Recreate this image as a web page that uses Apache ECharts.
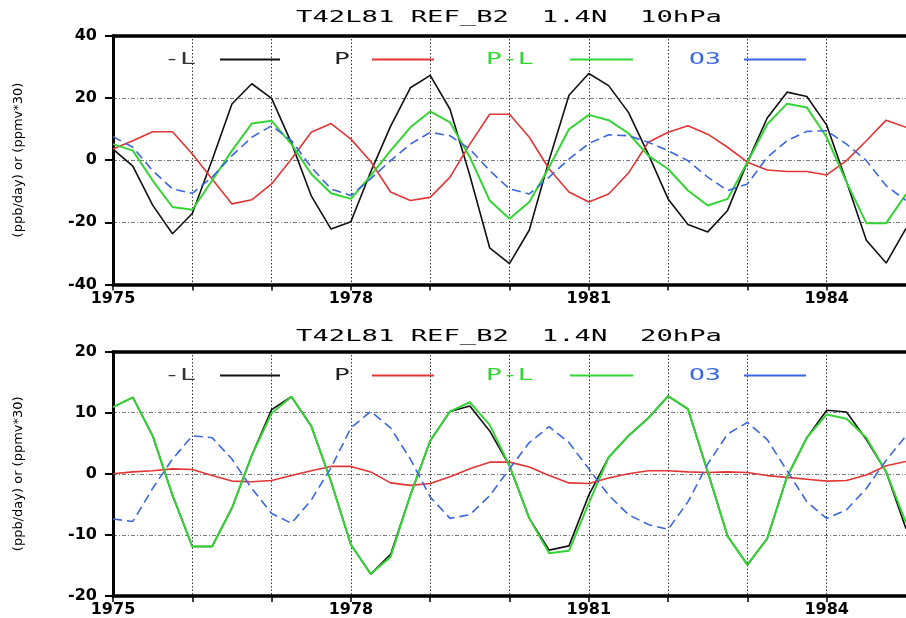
<!DOCTYPE html>
<html>
<head>
<meta charset="utf-8">
<script src="https://cdn.jsdelivr.net/npm/echarts@6/dist/echarts.min.js"></script>
<style>
  html, body { margin: 0; padding: 0; background: #ffffff; }
  #chart { width: 906px; height: 618px; }
</style>
</head>
<body>
<div id="chart"></div>
<script>
// ---- data (quarterly, 1975.0 .. 1985.0) ----
const times = [1975, 1975.25, 1975.5, 1975.75, 1976, 1976.25, 1976.5, 1976.75,
  1977, 1977.25, 1977.5, 1977.75, 1978, 1978.25, 1978.5, 1978.75,
  1979, 1979.25, 1979.5, 1979.75, 1980, 1980.25, 1980.5, 1980.75,
  1981, 1981.25, 1981.5, 1981.75, 1982, 1982.25, 1982.5, 1982.75,
  1983, 1983.25, 1983.5, 1983.75, 1984, 1984.25, 1984.5, 1984.75, 1985];

const seriesNames = ['-L', 'P', 'P-L', 'O3'];
const panelTitles = ['T42L81 REF_B2  1.4N  10hPa', 'T42L81 REF_B2  1.4N  20hPa'];
const yAxisName = '(ppb/day) or (ppmv*30)';
const xLabelYears = [1975, 1978, 1981, 1984];

// 10 hPa panel
const top_L = [3.5, -2.0, -14.5, -23.7, -17.2, 0.0, 18.0, 24.5, 19.8, 5.5, -11.5, -22.2, -19.8, -3.8, 10.8, 23.2,
  27.2, 16.3, -5.0, -28.2, -33.3, -22.5, 0.0, 20.8, 27.8, 23.9, 15.3, 1.9, -12.5, -20.7, -23.1, -16.2,
  -0.7, 13.5, 21.8, 20.4, 11.2, -7.0, -25.8, -33.1, -22.0];
const top_P = [3.5, 6.2, 9.1, 9.1, 1.9, -6.1, -14.1, -12.8, -7.7, 0.3, 8.9, 11.7, 6.7, -0.5, -10.3, -13.0,
  -12.0, -5.5, 5.1, 14.7, 14.7, 7.3, -2.9, -10.3, -13.5, -10.9, -4.2, 5.7, 8.9, 11.0, 8.3, 4.1,
  -0.7, -3.2, -3.7, -3.7, -4.8, -0.2, 6.2, 12.8, 10.5];
const top_PL = [5.1, 3.0, -6.6, -15.1, -16.0, -6.6, 3.0, 11.7, 12.6, 5.1, -4.5, -10.7, -12.5, -5.0, 3.0, 10.5,
  15.6, 12.1, 0.9, -13.0, -18.9, -13.5, -2.3, 9.9, 14.5, 12.8, 8.6, 1.4, -2.9, -9.8, -14.6, -12.5,
  -0.7, 11.5, 18.1, 16.9, 7.3, -7.1, -20.3, -20.3, -11.0];
const top_O3 = [7.5, 4.1, -3.4, -9.3, -10.7, -5.5, 1.4, 7.3, 11.0, 6.2, -2.3, -9.3, -11.4, -6.0, -0.2, 5.1,
  8.9, 7.8, 3.5, -3.4, -9.3, -10.9, -5.5, 0.3, 5.3, 8.1, 7.8, 5.7, 3.0, -0.2, -5.5, -9.8,
  -7.7, 0.9, 6.2, 9.2, 9.4, 5.1, -0.2, -8.3, -13.0];

// 20 hPa panel
const bot_L = [10.9, 12.5, 6.2, -3.5, -11.9, -11.9, -5.6, 3.0, 10.5, 12.6, 7.8, -1.3, -11.6, -16.4, -13.2, -3.5,
  5.4, 10.2, 11.1, 7.0, 1.3, -7.3, -12.5, -11.8, -3.5, 2.7, 6.2, 9.1, 12.7, 10.6, 0.3, -10.2,
  -14.9, -10.6, -0.5, 5.9, 10.4, 10.1, 5.6, 0.3, -9.0];
const bot_P = [0.0, 0.3, 0.5, 0.8, 0.7, -0.3, -1.2, -1.3, -1.1, -0.3, 0.5, 1.2, 1.2, 0.3, -1.5, -1.9,
  -1.6, -0.5, 0.8, 1.9, 1.9, 1.1, -0.3, -1.5, -1.6, -0.7, 0.0, 0.5, 0.5, 0.3, 0.2, 0.3,
  0.2, -0.3, -0.6, -0.9, -1.2, -1.1, -0.2, 1.3, 2.0];
const bot_PL = [10.9, 12.5, 6.2, -3.5, -11.9, -11.9, -5.6, 3.0, 9.9, 12.6, 7.8, -1.3, -11.6, -16.4, -13.6, -3.5,
  5.4, 10.2, 11.7, 8.0, 1.3, -7.3, -13.0, -12.6, -4.8, 2.7, 6.2, 9.1, 12.7, 10.6, 0.3, -10.2,
  -14.9, -10.6, -0.5, 5.9, 9.7, 9.0, 5.9, 0.3, -8.0];
const bot_O3 = [-7.4, -7.8, -2.4, 2.4, 6.2, 5.9, 2.4, -2.4, -6.5, -8.1, -4.3, 1.0, 7.5, 10.2, 7.5, 2.4,
  -3.8, -7.3, -6.7, -3.6, 0.8, 5.1, 7.7, 5.1, 0.8, -3.5, -6.7, -8.3, -9.1, -4.6, 1.6, 6.5,
  8.4, 5.6, 0.5, -4.6, -7.3, -5.9, -2.4, 2.2, 6.2];

// ---- styling ----
const colors = { '-L': '#111111', 'P': '#e23535', 'P-L': '#35d435', 'O3': '#3a66e0' };
const legendTextColors = { '-L': '#333333', 'P': '#222222', 'P-L': '#35d435', 'O3': '#3a66e0' };
const lineWidths = { '-L': 1.6, 'P': 1.6, 'P-L': 2, 'O3': 1.6 };

const panels = [
  { top: 35.5, height: 249, min: -40, max: 40, interval: 20, data: [top_L, top_P, top_PL, top_O3] },
  { top: 351.5, height: 247.5, min: -20, max: 20, interval: 10, data: [bot_L, bot_P, bot_PL, bot_O3] }
];

const GRID_LEFT = 113;
const YEAR_PX = 80.35;

const grid = [], xAxis = [], yAxis = [], series = [], graphic = [];
const labelFont = { fontFamily: 'DejaVu Sans', fontWeight: 'bold', fontSize: 16, color: '#000' };

panels.forEach((p, gi) => {
  grid.push({ left: GRID_LEFT, top: p.top, width: YEAR_PX * 10, height: p.height });
  // bottom x axis
  xAxis.push({
    type: 'value', gridIndex: gi, position: 'bottom', min: 1975, max: 1985, interval: 1,
    axisLine: { show: true, onZero: false, lineStyle: { color: '#000', width: 3.5 } },
    axisTick: { show: true, inside: false, length: 6, lineStyle: { color: '#000', width: 1.5 } },
    axisLabel: Object.assign({
      margin: 6, showMinLabel: true, showMaxLabel: false,
      formatter: v => (xLabelYears.indexOf(Math.round(v)) >= 0 ? String(Math.round(v)) : '')
    }, labelFont),
    splitLine: { show: true, lineStyle: { color: '#333', width: 1, type: [1.5, 2] } }
  });
  // top border
  xAxis.push({
    type: 'value', gridIndex: gi, position: 'top', min: 1975, max: 1985, interval: 1,
    axisLine: { show: true, onZero: false, lineStyle: { color: '#000', width: 3.5 } },
    axisTick: { show: false }, axisLabel: { show: false }, splitLine: { show: false }
  });
  yAxis.push({
    type: 'value', gridIndex: gi, min: p.min, max: p.max, interval: p.interval,
    name: yAxisName, nameLocation: 'middle', nameRotate: 90, nameGap: 88,
    nameTextStyle: { fontFamily: 'DejaVu Sans', fontSize: 13, color: '#000' },
    axisLine: { show: true, onZero: false, lineStyle: { color: '#000', width: 3 } },
    axisTick: { show: true, inside: false, length: 8, lineStyle: { color: '#000', width: 2 } },
    axisLabel: Object.assign({ margin: 16, showMinLabel: true, showMaxLabel: true }, labelFont),
    splitLine: { show: true, lineStyle: { color: '#7a7a7a', width: 1, type: [4, 2, 1, 2] } }
  });
  seriesNames.forEach((name, si) => {
    series.push({
      name: name, type: 'line', xAxisIndex: gi * 2, yAxisIndex: gi,
      data: times.map((t, i) => [t, p.data[si][i]]),
      symbol: 'none', clip: true, z: 3 + si,
      lineStyle: { color: colors[name], width: lineWidths[name], type: name === 'O3' ? [9, 5] : 'solid' },
      itemStyle: { color: colors[name] }
    });
  });

  // panel title
  const titleY = gi === 0 ? 17.5 : 336.5;
  graphic.push({
    type: 'text', x: 509, y: titleY, scaleX: 1.7, silent: true,
    style: { text: panelTitles[gi], font: '16px "DejaVu Sans Mono"', fill: '#000',
             textAlign: 'center', textVerticalAlign: 'middle' }
  });

  // legend row (text then line sample)
  const ly = gi === 0 ? 59.5 : 375.5;
  const legendItems = [
    { name: '-L', tx: 164, lx1: 220, lx2: 280 },
    { name: 'P', tx: 334, lx1: 372, lx2: 434 },
    { name: 'P-L', tx: 486, lx1: 570, lx2: 633 },
    { name: 'O3', tx: 689, lx1: 744, lx2: 806 }
  ];
  legendItems.forEach(it => {
    graphic.push({
      type: 'text', x: it.tx, y: ly, scaleX: 1.65, silent: true,
      style: { text: it.name, font: '16px "DejaVu Sans Mono"', fill: legendTextColors[it.name],
               textAlign: 'left', textVerticalAlign: 'middle' }
    });
    graphic.push({
      type: 'line', silent: true,
      shape: { x1: it.lx1, y1: ly, x2: it.lx2, y2: ly },
      style: { stroke: colors[it.name], lineWidth: 2 }
    });
  });
});

const chart = echarts.init(document.getElementById('chart'), null, { renderer: 'canvas' });
chart.setOption({
  backgroundColor: '#ffffff',
  animation: false,
  grid: grid,
  xAxis: xAxis,
  yAxis: yAxis,
  series: series,
  graphic: graphic
});
</script>
</body>
</html>
